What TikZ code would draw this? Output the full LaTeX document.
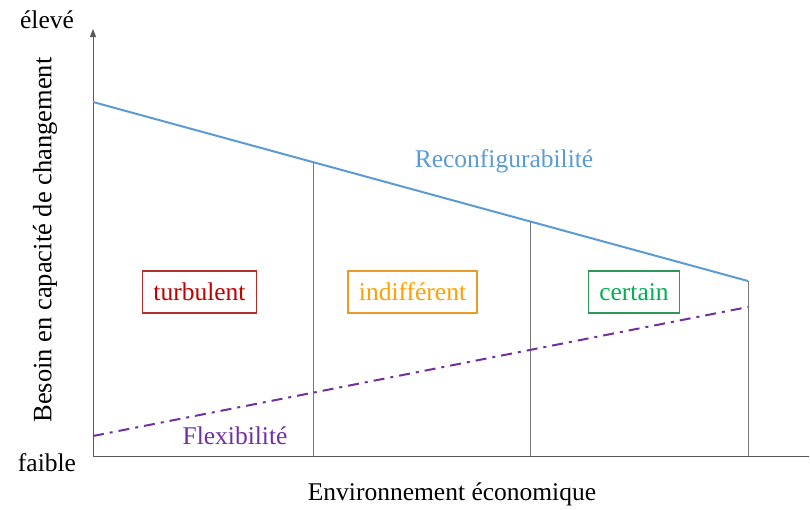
\documentclass[tikz,border=0pt]{standalone}
\usepackage{fontspec}
\setmainfont{Liberation Serif}
\usetikzlibrary{arrows.meta}
\definecolor{reconf}{RGB}{91,155,213}
\definecolor{flexc}{RGB}{112,48,160}
\definecolor{turbc}{RGB}{192,0,0}
\definecolor{turbb}{RGB}{176,48,48}
\definecolor{indic}{RGB}{255,160,0}
\definecolor{indib}{RGB}{235,155,40}
\definecolor{certc}{RGB}{0,176,80}
\definecolor{certb}{RGB}{50,150,90}
\definecolor{axisc}{RGB}{90,90,90}
\definecolor{divc}{RGB}{120,120,120}
\begin{document}
\begin{tikzpicture}[x=1pt,y=-1pt,
  lbl/.style={font=\fontsize{25.5}{30}\selectfont, inner sep=0pt},
  zone/.style={font=\fontsize{25.5}{30}\selectfont, draw, line width=1.3pt, minimum height=42pt, inner xsep=11pt, inner ysep=0pt},
  divline/.style={draw=divc, line width=1pt},
  axisline/.style={draw=axisc, line width=1pt}]
\useasboundingbox (0,0) rectangle (810,509);
% axes
\coordinate (O) at (93,456);
\coordinate (Ytop) at (93,29);
\coordinate (Xend) at (809,456);
\draw[axisline, -{Triangle[length=8pt,width=6pt]}] (O) -- (Ytop);
\draw[axisline] (O) -- (Xend);
% reconfigurability line
\coordinate (R0) at (93,102);
\coordinate (R1) at (313,163);
\coordinate (R2) at (530,221);
\coordinate (R3) at (748,281);
\coordinate (B1) at (313,456);
\coordinate (B2) at (530,456);
\coordinate (B3) at (748,456);
\draw[divline] (R1) -- (B1);
\draw[divline] (R2) -- (B2);
\draw[divline] (R3) -- (B3);
\draw[reconf, line width=2pt] (R0) -- (R3);
% flexibility line
\coordinate (F0) at (93,436);
\coordinate (F1) at (748,307);
\draw[flexc, line width=2pt, dash pattern=on 11pt off 6pt on 3pt off 6pt] (F0) -- (F1);
% labels
\node[lbl] (eleve) at (47,20) {élevé};
\node[lbl] (faible) at (47,463) {faible};
\node[lbl, rotate=90, font=\fontsize{26.5}{30}\selectfont] (ylab) at (45,240) {Besoin en capacité de changement};
\node[lbl] (xlab) at (452,494) {Environnement économique};
\node[lbl, text=reconf] (reclab) at (504,161) {Reconfigurabilité};
\node[lbl, text=flexc] (flexlab) at (235,436) {Flexibilité};
% zones
\node[zone, draw=turbb, text=turbc] (turb) at (199.5,292) {turbulent};
\node[zone, draw=indib, text=indic] (indi) at (412.5,292) {indifférent};
\node[zone, draw=certb, text=certc] (cert) at (634,292) {certain};
\end{tikzpicture}
\end{document}
